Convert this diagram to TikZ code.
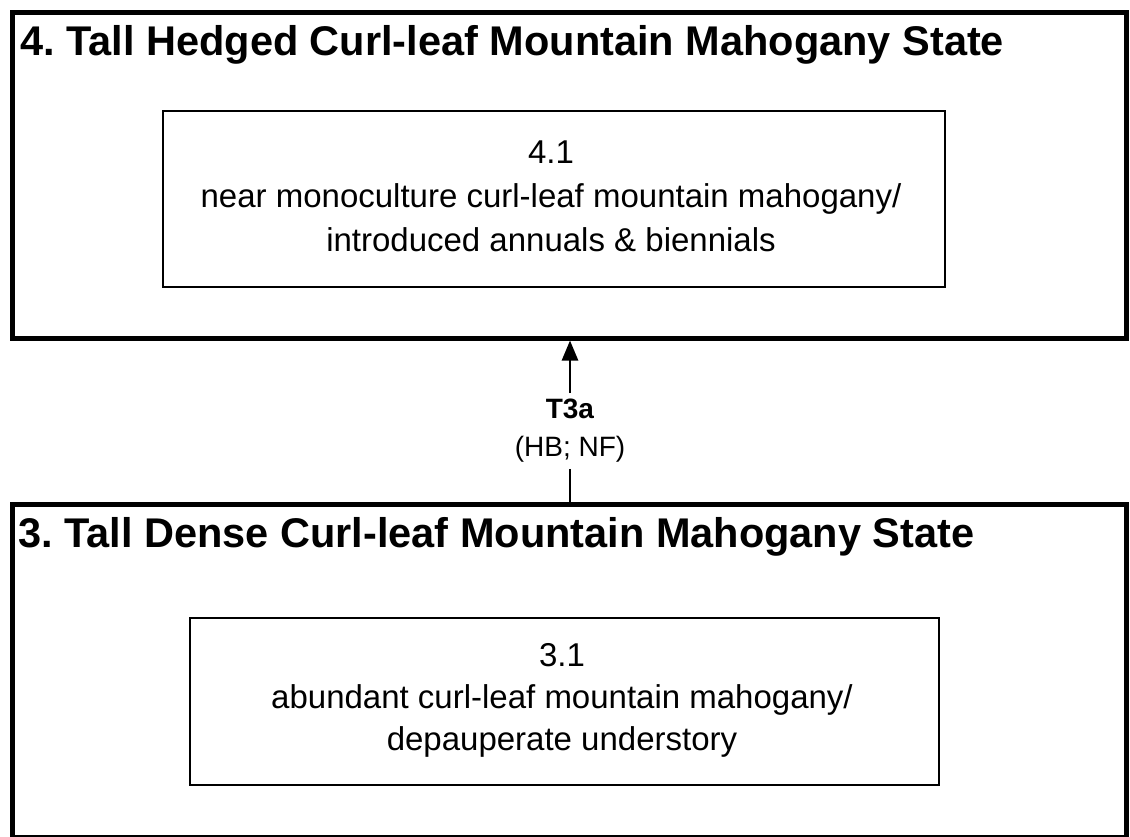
\documentclass[tikz,border=0pt]{standalone}
\usepackage{fontspec}
\setmainfont{Liberation Sans}
\usetikzlibrary{arrows.meta}
\frenchspacing
\begin{document}
\begin{tikzpicture}[x=1pt,y=-1pt,
  outerbox/.style={draw, line width=5pt, inner sep=0pt},
  innerbox/.style={draw, line width=2.6pt, inner sep=0pt},
  statetitle/.style={font=\bfseries\fontsize{41.5}{48}\selectfont, anchor=base west, inner sep=0pt},
  phase/.style={font=\fontsize{33}{44}\selectfont, align=center, inner sep=0pt},
  trans/.style={font=\fontsize{28}{38}\selectfont, align=center, inner sep=6pt},
  conn/.style={line width=2.6pt}]
\useasboundingbox (0,0) rectangle (1130,836);
\fill[white] (0,0) rectangle (1130,836);
% State 4
\node[outerbox, minimum width=1114pt, minimum height=326pt] (s4) at (569,175) {};
\node[statetitle] (t4) at (20,55) {4. Tall Hedged Curl-leaf Mountain Mahogany State};
\node[innerbox, minimum width=782pt, minimum height=176pt] (p41) at (554,199) {};
\node[phase] (x41) at (551,196) {4.1\\near monoculture curl-leaf mountain mahogany/\\introduced annuals \& biennials};
% State 3
\node[outerbox, minimum width=1114pt, minimum height=333.5pt] (s3) at (569,670.75) {};
\node[statetitle] (t3) at (18,547) {3. Tall Dense Curl-leaf Mountain Mahogany State};
\node[innerbox, minimum width=749pt, minimum height=167pt] (p31) at (564.5,701.5) {};
\node[phase, font=\fontsize{33}{42}\selectfont] (x31) at (562,700) {3.1\\abundant curl-leaf mountain mahogany/\\depauperate understory};
% Transition
\node[trans] (t3a) at (570,431) {\textbf{T3a}\\(HB; NF)};
\draw[conn] (t3a.south) -- (t3a.south |- s3.north);
\draw[conn, -{Triangle[length=20pt, width=16pt]}] (t3a.north) -- (t3a.north |- s4.south);
\end{tikzpicture}
\end{document}
